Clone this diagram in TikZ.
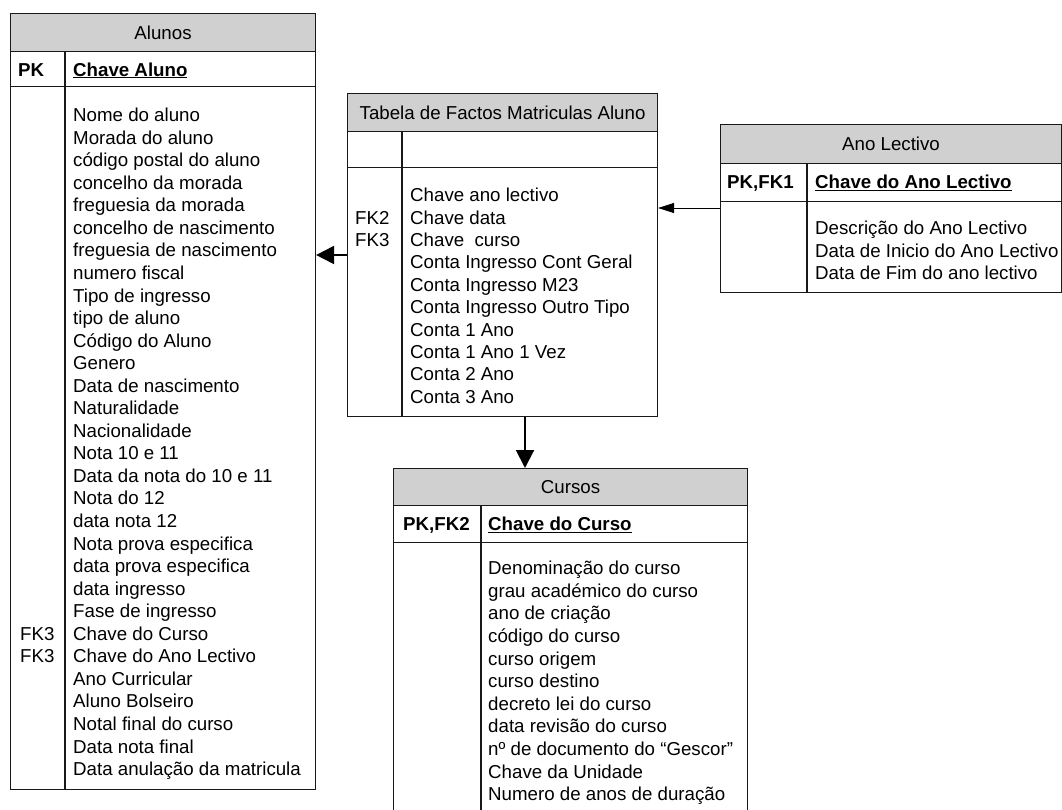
\documentclass[tikz,border=0pt]{standalone}
\usepackage{fontspec}
\setmainfont{Liberation Sans}
\usetikzlibrary{arrows.meta}
\definecolor{hdrgray}{RGB}{208,208,208}
\definecolor{framec}{RGB}{25,25,25}
\begin{document}
\begin{tikzpicture}[x=1pt,y=-1pt,
  part/.style={draw=framec, line width=1.1pt, inner sep=0pt, anchor=north west},
  hdrpart/.style={part, fill=hdrgray, font=\fontsize{18.7}{22.5}\selectfont},
  rule/.style={draw=framec, line width=1.1pt},
  txt/.style={anchor=base west, inner sep=0pt, font=\fontsize{18.7}{22.5}\selectfont},
  keytxt/.style={txt, font=\fontsize{18.7}{22.5}\selectfont\bfseries},
  bigarrow/.style={draw=black, line width=2pt, -{Triangle[length=18pt,width=18pt]}},
  smallarrow/.style={draw=black, line width=1pt, -{Triangle[length=16pt,width=10pt]}}]

\useasboundingbox (0,0) rectangle (1062,809);

% ---------------- Alunos ----------------
\node[hdrpart, minimum width=305pt, minimum height=38pt] (alunosH) at (10,13) {Alunos};
\node[part, minimum width=305pt, minimum height=35pt] (alunosK) at (10,51) {};
\node[part, minimum width=305pt, minimum height=703pt] (alunosB) at (10,86) {};
\draw[rule] (alunosK.north west -| 65,0) -- (alunosB.south west -| 65,0);
\node[keytxt] (alunosPK) at (18,76) {PK};
\node[keytxt] (alunosKey) at (73,76) {\underline{Chave Aluno}};
\foreach \t [count=\i from 0] in {Nome do aluno, Morada do aluno, código postal do aluno,
  concelho da morada, freguesia da morada, concelho de nascimento, freguesia de nascimento,
  numero fiscal, Tipo de ingresso, tipo de aluno, Código do Aluno, Genero,
  Data de nascimento, Naturalidade, Nacionalidade, Nota 10 e 11, Data da nota do 10 e 11,
  Nota do 12, data nota 12, Nota prova especifica, data prova especifica, data ingresso,
  Fase de ingresso, Chave do Curso, Chave do Ano Lectivo, Ano Curricular, Aluno Bolseiro,
  Notal final do curso, Data nota final, Data anulação da matricula}
  \node[txt] (alunosT\i) at (73,121.6+\i*22.55) {\t};
\node[txt] (alunosFKa) at (20,121.6+23*22.55) {FK3};
\node[txt] (alunosFKb) at (20,121.6+24*22.55) {FK3};

% ---------------- Tabela de Factos ----------------
\node[hdrpart, minimum width=310pt, minimum height=38pt] (factsH) at (347,93) {Tabela de Factos Matriculas Aluno};
\node[part, minimum width=310pt, minimum height=36pt] (factsK) at (347,131) {};
\node[part, minimum width=310pt, minimum height=249pt] (factsB) at (347,167) {};
\draw[rule] (factsK.north west -| 402,0) -- (factsB.south west -| 402,0);
\foreach \t [count=\i from 0] in {Chave ano lectivo, Chave data, Chave\ \ curso,
  Conta Ingresso Cont Geral, Conta Ingresso M23, Conta Ingresso Outro Tipo,
  Conta 1 Ano, Conta 1 Ano 1 Vez, Conta 2 Ano, Conta 3 Ano}
  \node[txt] (factsT\i) at (410,201.6+\i*22.4) {\t};
\node[txt] (factsFKa) at (355,201.6+22.4) {FK2};
\node[txt] (factsFKb) at (355,201.6+2*22.4) {FK3};

% ---------------- Ano Lectivo ----------------
\node[hdrpart, minimum width=341pt, minimum height=39pt] (anoH) at (720,124) {Ano Lectivo};
\node[part, minimum width=341pt, minimum height=38pt] (anoK) at (720,163) {};
\node[part, minimum width=341pt, minimum height=91pt] (anoB) at (720,201) {};
\draw[rule] (anoK.north west -| 807,0) -- (anoB.south west -| 807,0);
\node[keytxt] (anoPK) at (727,188.6) {PK,FK1};
\node[keytxt] (anoKey) at (815,188.6) {\underline{Chave do Ano Lectivo}};
\foreach \t [count=\i from 0] in {Descrição do Ano Lectivo, Data de Inicio do Ano Lectivo,
  Data de Fim do ano lectivo}
  \node[txt] (anoT\i) at (815,234.6+\i*22.5) {\t};

% ---------------- Cursos ----------------
\node[hdrpart, minimum width=354pt, minimum height=37pt] (cursosH) at (393,468) {Cursos};
\node[part, minimum width=354pt, minimum height=37pt] (cursosK) at (393,505) {};
\node[part, minimum width=354pt, minimum height=272pt] (cursosB) at (393,542) {};
\draw[rule] (cursosK.north west -| 481,0) -- (cursosB.south west -| 481,0);
\node[keytxt] (cursosPK) at (403,530.6) {PK,FK2};
\node[keytxt] (cursosKey) at (488,530.6) {\underline{Chave do Curso}};
\foreach \t [count=\i from 0] in {Denominação do curso, grau académico do curso,
  ano de criação, código do curso, curso origem, curso destino, decreto lei do curso,
  data revisão do curso, nº de documento do “Gescor”, Chave da Unidade,
  Numero de anos de duração}
  \node[txt] (cursosT\i) at (488,574.6+\i*22.6) {\t};

% ---------------- Relationships ----------------
\draw[bigarrow] (factsB.west |- 0,255) -- (alunosB.east |- 0,255);
\draw[smallarrow] (anoB.west |- 0,208) -- (factsB.east |- 0,208);
\draw[bigarrow] (factsB.south -| 525,0) -- (cursosH.north -| 525,0);
\end{tikzpicture}
\end{document}
